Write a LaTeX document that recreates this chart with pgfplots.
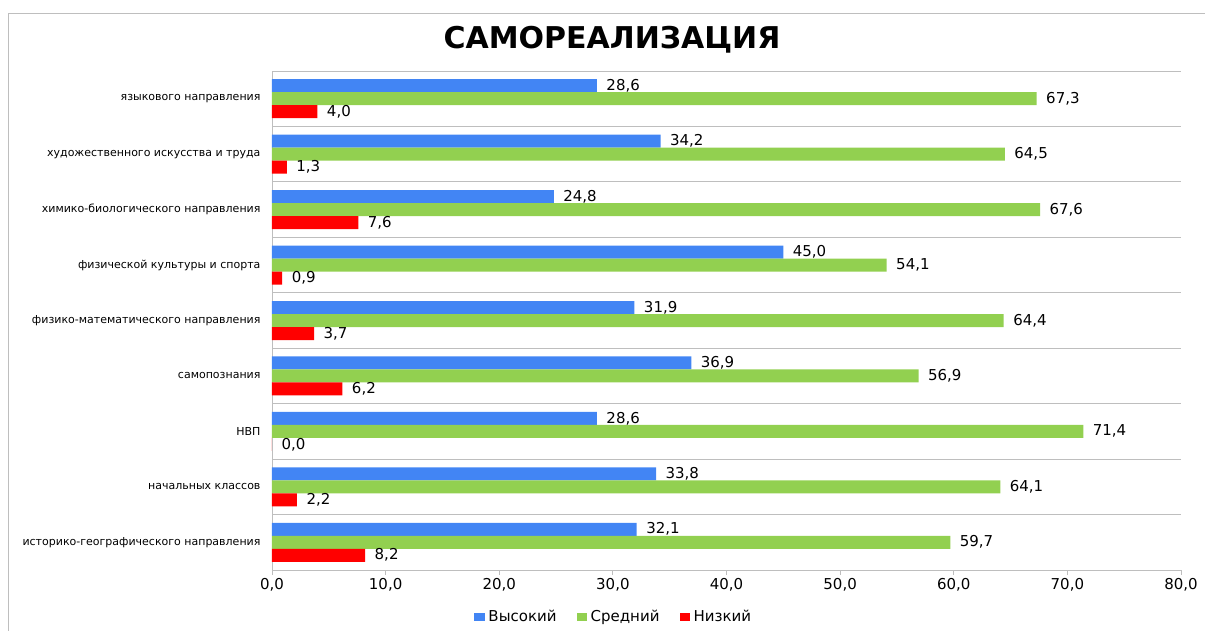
\documentclass[border=0pt]{standalone}
\usepackage{fontspec}
\setmainfont{DejaVu Sans}
\usepackage{pgfplots}
\pgfplotsset{compat=1.18}
\definecolor{cBlue}{RGB}{66,133,244}
\definecolor{cGreen}{RGB}{146,208,80}
\definecolor{cRed}{RGB}{255,0,0}
\definecolor{gridc}{RGB}{190,190,190}
\begin{document}
\begin{tikzpicture}
\useasboundingbox (-272pt,-60pt) rectangle (933pt,570pt);
\draw[gridc, line width=0.8pt] (-264pt,-61pt) -- (-264pt,557pt) -- (934pt,557pt);
\node[font=\fontsize{30}{36}\selectfont\bfseries] at (340pt,530pt) {САМОРЕАЛИЗАЦИЯ};
\begin{axis}[at={(0,0)}, anchor=south west, scale only axis, width=909pt, height=499pt,
  xbar, bar width=13pt, xmin=0, xmax=80, ymin=-0.5, ymax=8.5,
  axis x line*=bottom, axis y line*=left,
  axis line style={gridc, line width=0.8pt, -},
  tick align=outside,
  xtick={0,10,...,80}, major tick length=5pt,
  x tick style={gridc, line width=0.8pt},
  xticklabel style={font=\fontsize{15}{18}\selectfont, /pgf/number format/.cd, fixed, fixed zerofill, precision=1, use comma, assume math mode=true},
  ytick={0,...,8},
  y tick style={draw=none},
  yticklabels={историко-географического направления, начальных классов, НВП, самопознания, физико-математического направления, физической культуры и спорта, химико-биологического направления, художественного искусства и труда, языкового направления},
  yticklabel style={font=\fontsize{11}{13}\selectfont, xshift=-3pt},
  minor ytick={-0.5,0.5,...,8.5},
  minor tick length=5pt,
  minor y tick style={gridc, line width=0.8pt},
  yminorgrids, minor grid style={gridc, line width=0.8pt},
  point meta=x,
  nodes near coords={\pgfmathprintnumber[fixed,fixed zerofill,precision=1,use comma,assume math mode=true]{\pgfplotspointmeta}},
  nodes near coords style={font=\fontsize{15}{18}\selectfont, anchor=west, xshift=6pt},
  legend style={at={(0.376,-0.094)}, anchor=center, draw=none, legend columns=3,
    font=\fontsize{15}{18}\selectfont,
    /tikz/every odd column/.append style={column sep=2pt},
    /tikz/every even column/.append style={column sep=18pt}},
  legend image code/.code={\fill[#1, draw=none] (0pt,-4pt) rectangle (10pt,4pt);},
]
\addplot[fill=cBlue, draw=none, bar shift=13pt] coordinates {(32.1,0) (33.8,1) (28.6,2) (36.9,3) (31.9,4) (45.0,5) (24.8,6) (34.2,7) (28.6,8)};
\addplot[fill=cGreen, draw=none, bar shift=0pt] coordinates {(59.7,0) (64.1,1) (71.4,2) (56.9,3) (64.4,4) (54.1,5) (67.6,6) (64.5,7) (67.3,8)};
\addplot[fill=cRed, draw=none, bar shift=-13pt] coordinates {(8.2,0) (2.2,1) (0.0,2) (6.2,3) (3.7,4) (0.9,5) (7.6,6) (1.3,7) (4.0,8)};
\legend{Высокий, Средний, Низкий}
\end{axis}
\end{tikzpicture}
\end{document}
